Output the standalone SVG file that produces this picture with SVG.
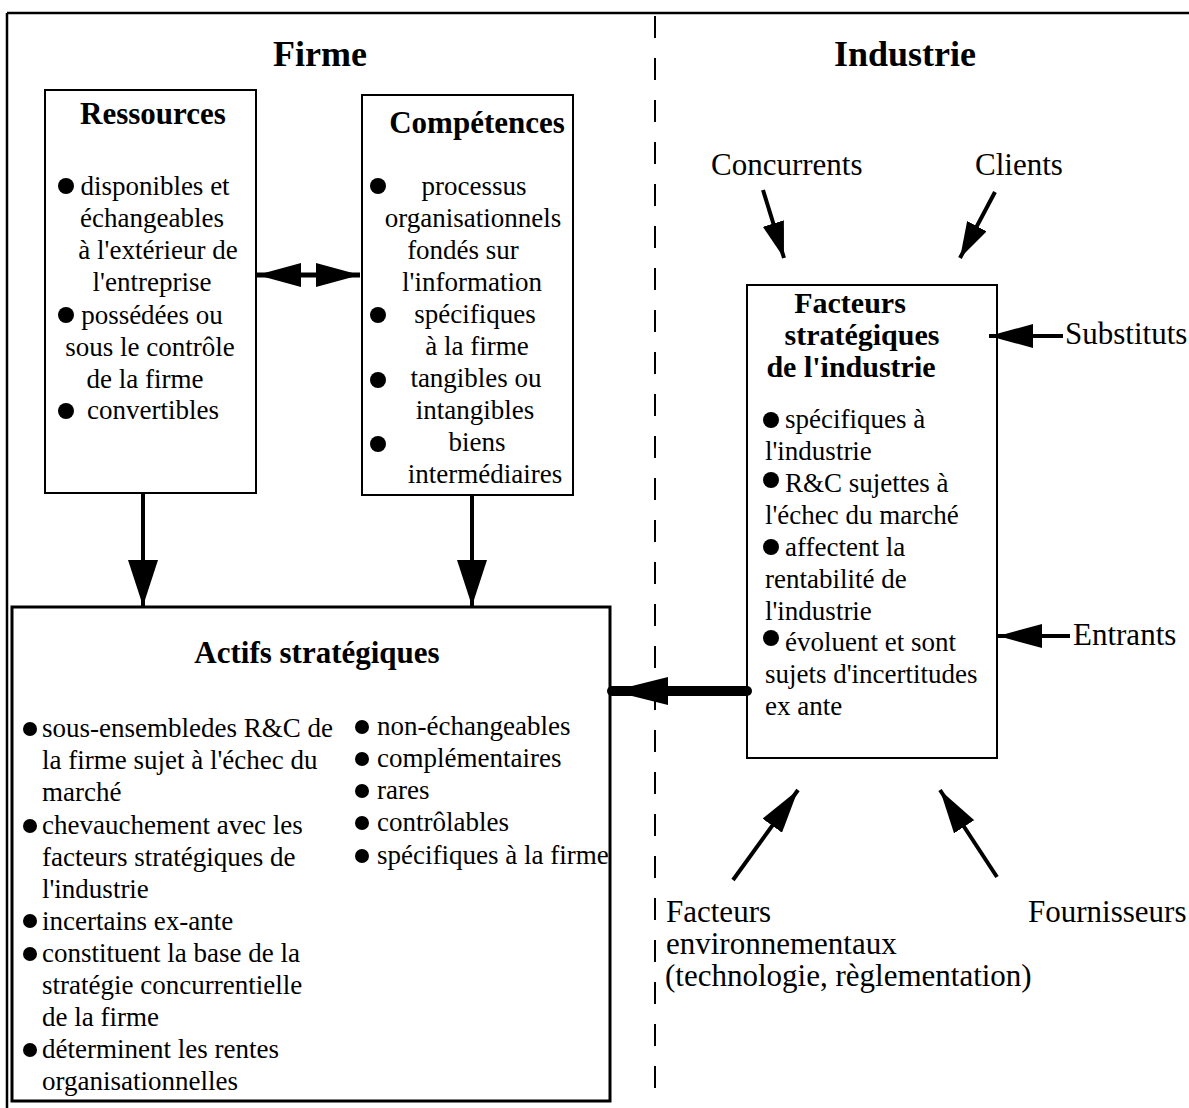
<svg xmlns="http://www.w3.org/2000/svg" width="1189" height="1108" viewBox="0 0 1189 1108">
<style>
text{font-family:"Liberation Serif","Times New Roman",serif;fill:#000}
.t{font-size:27px}
.o{font-size:31px}
.h{font-size:31px;font-weight:bold}
.hh{font-size:36px;font-weight:bold}
.c{text-anchor:middle}
.box{fill:#fff;stroke:#000;stroke-width:2}
.ln{stroke:#000;fill:none}
</style>
<defs>
<marker id="ah" markerUnits="userSpaceOnUse" viewBox="0 0 44 24" refX="44" refY="12" markerWidth="44" markerHeight="24" orient="auto-start-reverse"><path d="M0,0 L44,12 L0,24 Z" fill="#000"/></marker>
<marker id="ahd" markerUnits="userSpaceOnUse" viewBox="0 0 46 30" refX="46" refY="15" markerWidth="46" markerHeight="30" orient="auto"><path d="M0,0 L46,15 L0,30 Z" fill="#000"/></marker>
<marker id="ahs" markerUnits="userSpaceOnUse" viewBox="0 0 36 22" refX="36" refY="11" markerWidth="36" markerHeight="22" orient="auto"><path d="M0,0 L36,11 L0,22 Z" fill="#000"/></marker>
<marker id="ahb" markerUnits="userSpaceOnUse" viewBox="0 0 56 28" refX="56" refY="14" markerWidth="56" markerHeight="28" orient="auto"><path d="M0,0 L56,14 L0,28 Z" fill="#000"/></marker>
</defs>
<rect width="1189" height="1108" fill="#fff"/>
<g id="frame">
<line class="ln" x1="7" y1="13" x2="1189" y2="13" stroke-width="2.5"/>
<line class="ln" x1="7" y1="13" x2="7" y2="1108" stroke-width="2.5"/>
<line class="ln" x1="655" y1="16" x2="655" y2="1100" stroke-width="2" stroke-dasharray="22 20"/>
<text class="hh c" x="320" y="66">Firme</text>
<text class="hh c" x="905" y="66">Industrie</text>
</g>
<g id="ressources">
<rect class="box" x="45" y="90" width="211" height="403"/>
<text class="h c" x="153" y="124">Ressources</text>
<circle cx="66" cy="186" r="8"/>
<circle cx="66" cy="315" r="8"/>
<circle cx="66" cy="411" r="8"/>
<text class="t c" x="155" y="195">disponibles et</text>
<text class="t c" x="152" y="227">échangeables</text>
<text class="t c" x="158" y="259">à l'extérieur de</text>
<text class="t c" x="152" y="291">l'entreprise</text>
<text class="t c" x="152" y="324">possédées ou</text>
<text class="t c" x="150" y="356">sous le contrôle</text>
<text class="t c" x="145" y="388">de la firme</text>
<text class="t c" x="153" y="419">convertibles</text>
</g>
<g id="competences">
<rect class="box" x="362" y="95" width="211" height="400"/>
<text class="h c" x="477" y="133">Compétences</text>
<circle cx="378" cy="186" r="8"/>
<circle cx="378" cy="315" r="8"/>
<circle cx="378" cy="380" r="8"/>
<circle cx="378" cy="444" r="8"/>
<text class="t c" x="474" y="195">processus</text>
<text class="t c" x="473" y="227">organisationnels</text>
<text class="t c" x="463" y="259">fondés sur</text>
<text class="t c" x="472" y="291">l'information</text>
<text class="t c" x="475" y="323">spécifiques</text>
<text class="t c" x="477" y="355">à la firme</text>
<text class="t c" x="476" y="387">tangibles ou</text>
<text class="t c" x="475" y="419">intangibles</text>
<text class="t c" x="477" y="451">biens</text>
<text class="t c" x="485" y="483">intermédiaires</text>
</g>
<g id="actifs">
<rect x="12" y="607" width="598" height="494" fill="#fff" stroke="#000" stroke-width="3"/>
<text class="h c" x="317" y="663">Actifs stratégiques</text>
<circle cx="30" cy="729" r="7"/>
<circle cx="30" cy="826" r="7"/>
<circle cx="30" cy="921" r="7"/>
<circle cx="30" cy="954" r="7"/>
<circle cx="30" cy="1050" r="7"/>
<text class="t" x="42" y="737">sous-ensembledes R&amp;C de</text>
<text class="t" x="42" y="769">la firme sujet à l'échec du</text>
<text class="t" x="42" y="801">marché</text>
<text class="t" x="42" y="834">chevauchement avec les</text>
<text class="t" x="42" y="866">facteurs stratégiques de</text>
<text class="t" x="42" y="898">l'industrie</text>
<text class="t" x="42" y="930">incertains ex-ante</text>
<text class="t" x="42" y="962">constituent la base de la</text>
<text class="t" x="42" y="994">stratégie concurrentielle</text>
<text class="t" x="42" y="1026">de la firme</text>
<text class="t" x="42" y="1058">déterminent les rentes</text>
<text class="t" x="42" y="1090">organisationnelles</text>
<circle cx="362" cy="727" r="7"/>
<circle cx="362" cy="759" r="7"/>
<circle cx="362" cy="791" r="7"/>
<circle cx="362" cy="823" r="7"/>
<circle cx="362" cy="856" r="7"/>
<text class="t" x="377" y="735">non-échangeables</text>
<text class="t" x="377" y="767">complémentaires</text>
<text class="t" x="377" y="799">rares</text>
<text class="t" x="377" y="831">contrôlables</text>
<text class="t" x="377" y="864">spécifiques à la firme</text>
</g>
<g id="facteurs">
<rect class="box" x="747" y="285" width="250" height="473"/>
<text class="c" x="850" y="313" style="font-size:30px;font-weight:bold">Facteurs</text>
<text class="c" x="862" y="345" style="font-size:30px;font-weight:bold">stratégiques</text>
<text class="c" x="851" y="377" style="font-size:30px;font-weight:bold">de l'industrie</text>
<circle cx="771" cy="420" r="8"/>
<circle cx="771" cy="480" r="8"/>
<circle cx="771" cy="547" r="8"/>
<circle cx="771" cy="638" r="8"/>
<text class="t" x="785" y="428">spécifiques à</text>
<text class="t" x="765" y="460">l'industrie</text>
<text class="t" x="785" y="492">R&amp;C sujettes à</text>
<text class="t" x="765" y="524">l'échec du marché</text>
<text class="t" x="785" y="556">affectent la</text>
<text class="t" x="765" y="588">rentabilité de</text>
<text class="t" x="765" y="620">l'industrie</text>
<text class="t" x="785" y="651">évoluent et sont</text>
<text class="t" x="765" y="683">sujets d'incertitudes</text>
<text class="t" x="765" y="715">ex ante</text>
</g>
<g id="labels">
<text class="o" x="711" y="175">Concurrents</text>
<text class="o" x="975" y="175">Clients</text>
<text class="o" x="1065" y="344">Substituts</text>
<text class="o" x="1073" y="645">Entrants</text>
<text class="o" x="666" y="922">Facteurs</text>
<text class="o" x="666" y="954">environnementaux</text>
<text class="o" x="665" y="986">(technologie, règlementation)</text>
<text class="o" x="1028" y="922">Fournisseurs</text>
</g>
<g id="connectors">
<line class="ln" x1="143" y1="493" x2="143" y2="606" stroke-width="4" marker-end="url(#ahd)"/>
<line class="ln" x1="472" y1="495" x2="472" y2="606" stroke-width="4" marker-end="url(#ahd)"/>
<line class="ln" x1="257" y1="275" x2="360" y2="275" stroke-width="5" marker-start="url(#ah)" marker-end="url(#ah)"/>
<line class="ln" x1="747" y1="691" x2="612" y2="691" stroke-width="10" stroke-linecap="round" marker-end="url(#ahb)"/>
<line class="ln" x1="1063" y1="336" x2="989" y2="336" stroke-width="4" marker-end="url(#ah)"/>
<line class="ln" x1="1070" y1="636" x2="998" y2="636" stroke-width="4" marker-end="url(#ah)"/>
<line class="ln" x1="763" y1="190" x2="784" y2="258" stroke-width="4" marker-end="url(#ahs)"/>
<line class="ln" x1="995" y1="192" x2="960" y2="258" stroke-width="4" marker-end="url(#ahs)"/>
<line class="ln" x1="733" y1="880" x2="798" y2="790" stroke-width="4" marker-end="url(#ah)"/>
<line class="ln" x1="997" y1="877" x2="940" y2="790" stroke-width="4" marker-end="url(#ah)"/>
</g>
</svg>
